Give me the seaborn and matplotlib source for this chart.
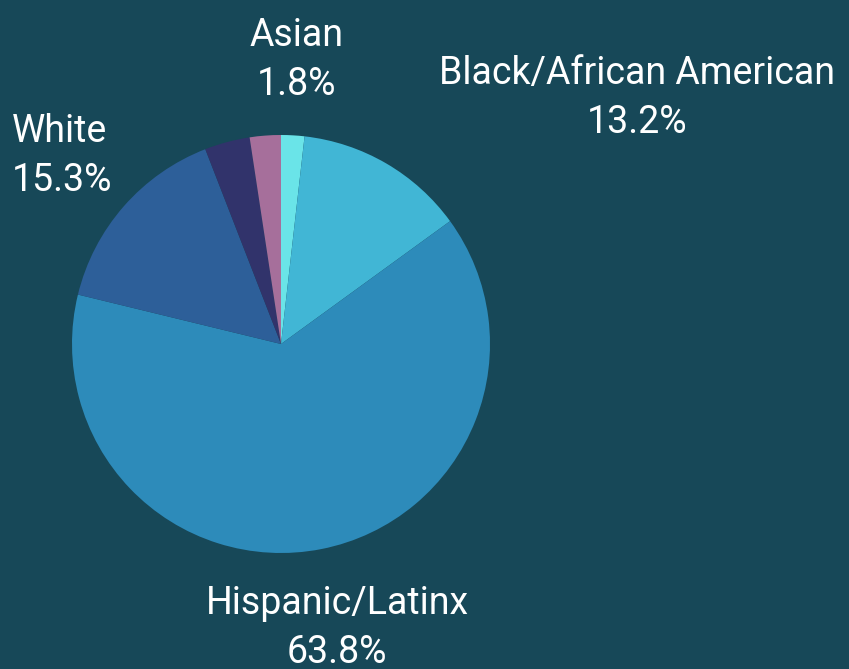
import matplotlib
matplotlib.use("Agg")
import matplotlib.pyplot as plt
import seaborn as sns

# Slice data, clockwise from 12 o'clock
groups = ["Asian", "Black/African American", "Hispanic/Latinx", "White", "Other", "Multiracial"]
shares = [1.8, 13.2, 63.8, 15.3, 3.5, 2.4]
colors = ["#6ae4e8", "#41b6d5", "#2d8bba", "#2d5f99", "#31336b", "#a66f9b"]
labelled = ["Asian", "Black/African American", "Hispanic/Latinx", "White"]

BG = "#174858"
W, H = 849, 669
CX, CY, R = 281, 344, 209  # pie centre / radius in pixels

sns.set_style("white")
plt.rcParams["font.family"] = ["Roboto", "DejaVu Sans"]

fig = plt.figure(figsize=(W / 100, H / 100), dpi=100, facecolor=BG)
ax = fig.add_axes([0, 0, 1, 1])
ax.set_facecolor(BG)

ax.pie(shares, colors=colors, startangle=90, counterclock=False,
       radius=1, wedgeprops=dict(linewidth=0))

# map pixel layout onto data units (1 unit = R pixels)
ax.set_xlim(-CX / R, (W - CX) / R)
ax.set_ylim(-(H - CY) / R, CY / R)
ax.set_aspect("auto")
ax.axis("off")


def px(x, y):
    return (x - CX) / R, (CY - y) / R


# label anchors in pixels: (x, y centre of block, ha)
anchors = {
    "Asian": (297, 60, "center"),
    "Black/African American": (637, 98, "center"),
    "White": (12, 156, "left"),
    "Hispanic/Latinx": (337, 628, "center"),
}
for g in labelled:
    x, y, ha = anchors[g]
    pct = shares[groups.index(g)]
    tx, ty = px(x, y)
    ax.text(tx, ty, f"{g}\n{pct:.1f}%", ha=ha, va="center", color="white",
            fontsize=27, linespacing=1.38, multialignment="center" if ha == "center" else "left")

fig.savefig("out.png", dpi=100, facecolor=BG)
